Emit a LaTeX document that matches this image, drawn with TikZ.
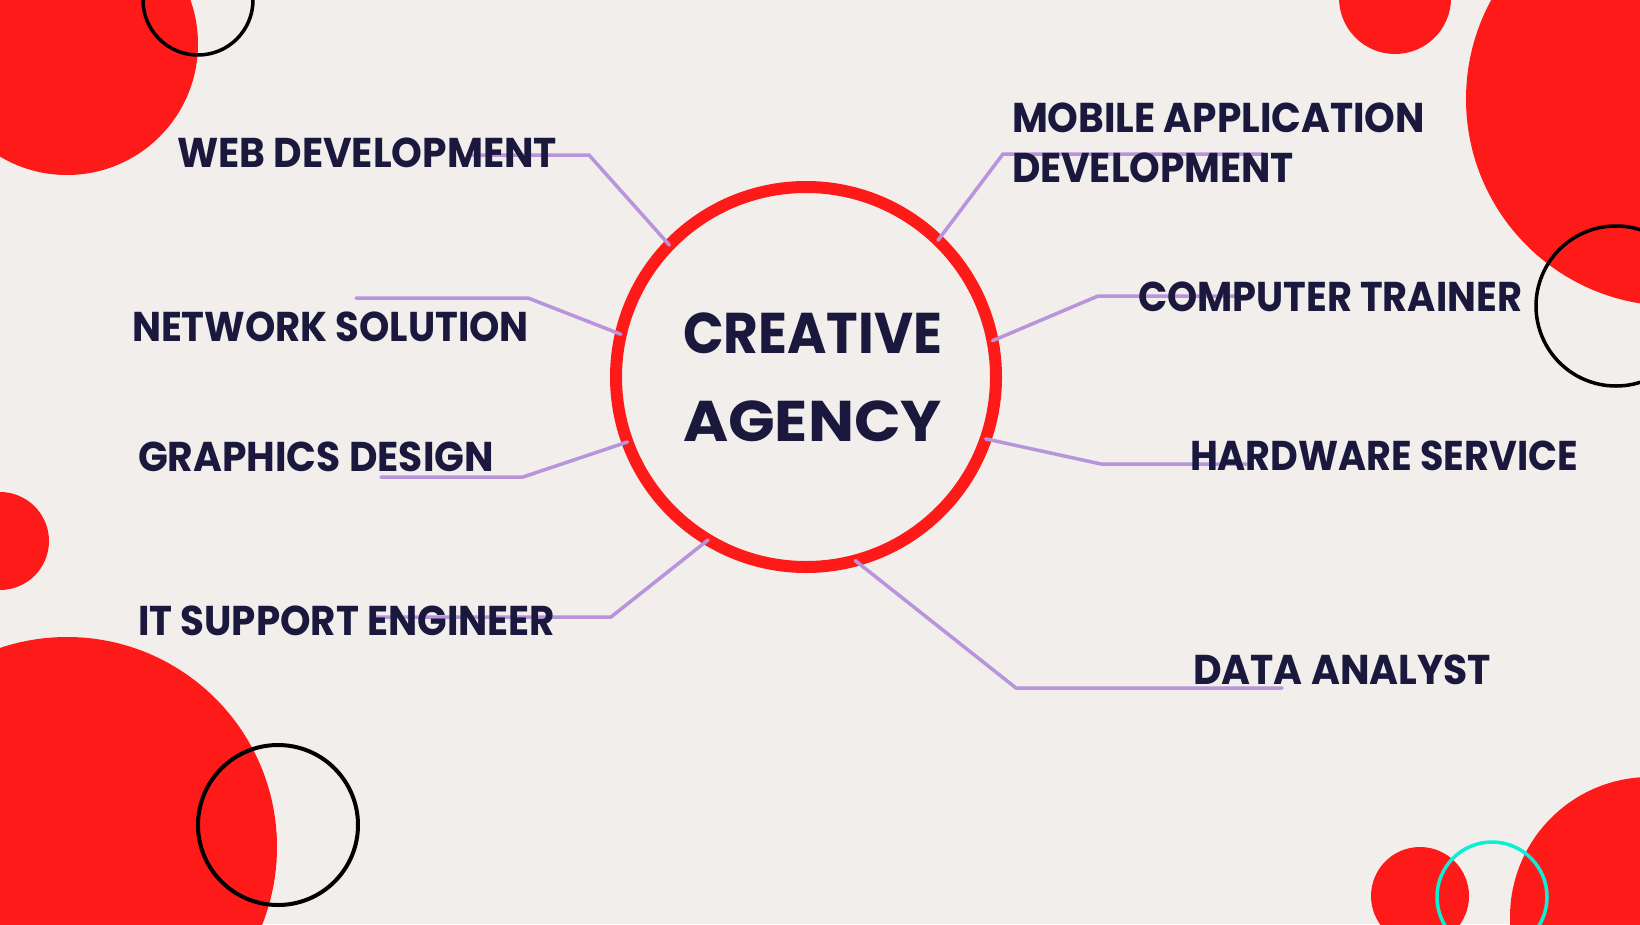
\documentclass[tikz,border=0pt]{standalone}
\usepackage{fontspec}
\usepackage{graphicx}
\setmainfont{Poppins}
\newfontfamily\labfont{Poppins}
\definecolor{bg}{RGB}{241,238,235}
\definecolor{hot}{RGB}{255,26,26}
\definecolor{lilac}{RGB}{184,148,220}
\definecolor{navy}{RGB}{27,24,62}
\definecolor{aqua}{RGB}{10,240,212}
\newsavebox\lbox
\newcommand\fitw[2]{\sbox\lbox{#2}\pgfmathsetmacro\sxf{#1/\wd\lbox}\scalebox{\sxf}[1]{\usebox\lbox}}
\tikzset{
  lab/.style={font=\labfont\bfseries\fontsize{41.6}{44}\selectfont, text=navy, inner sep=0pt, outer sep=0pt, anchor=base west},
  ttl/.style={font=\labfont\bfseries\fontsize{57.4}{60}\selectfont, text=navy, inner sep=0pt, outer sep=0pt, anchor=base west},
  conn/.style={draw=lilac, line width=3.5pt, line cap=round, line join=miter},
  ring/.style={draw=black, line width=3.5pt},
  blob/.style={fill=hot}
}
\begin{document}
\begin{tikzpicture}[x=1pt,y=-1pt]
\useasboundingbox (0,0) rectangle (1640,924);
\clip (0,0) rectangle (1640,924);
\fill[bg] (0,0) rectangle (1640,924);
% decorative circles
\fill[blob] (67,44) circle (131);
\fill[blob] (1395,-2) circle (56);
\fill[blob] (1673,99) circle (207);
\fill[blob] (0,541) circle (49);
\fill[blob] (67,847) circle (210);
\fill[blob] (1420,896) circle (49);
\fill[blob] (1650,917) circle (140);
\draw[ring] (198,0) circle (55);
\draw[ring] (1616,306) circle (80);
\draw[ring, line width=4pt] (278,825) circle (80);
\draw[draw=aqua, line width=3.5pt] (1492,897) circle (55);
% centre
\node[circle, draw=hot, line width=12pt, minimum size=380pt, inner sep=0pt, outer sep=0pt] (c) at (806,377) {};
\node[ttl] (t1) at (683,353) {\fitw{259}{CREATIVE}};
\node[ttl] (t2) at (683,441) {\fitw{259}{AGENCY}};
% connector points
\coordinate (k1) at (589,155);  \coordinate (e1) at (470,155);
\coordinate (k2) at (528,298);  \coordinate (e2) at (356,298);
\coordinate (k3) at (523,477);  \coordinate (e3) at (381,477);
\coordinate (k4) at (611,617);  \coordinate (e4) at (372,617);
\coordinate (k5) at (1003,154); \coordinate (e5) at (1263,154);
\coordinate (k6) at (1098,296); \coordinate (e6) at (1240,296);
\coordinate (k7) at (1101,464); \coordinate (e7) at (1246,464);
\coordinate (k8) at (1016,688); \coordinate (e8) at (1282,688);
\draw[conn] (c.136.9) -- (k1) -- (e1);
\draw[conn] (c.167.4) -- (k2) -- (e2);
\draw[conn] (c.200.2) -- (k3) -- (e3);
\draw[conn] (c.239.4) -- (k4) -- (e4);
\draw[conn] (c.46.9) -- (k5) -- (e5);
\draw[conn] (c.11.1) -- (k6) -- (e6);
\draw[conn] (c.341) -- (k7) -- (e7);
\draw[conn] (c.285.9) -- (k8) -- (e8);
% labels
\node[lab] (web) at (177,167) {\fitw{380}{WEB DEVELOPMENT}};
\node[lab] (net) at (132,341) {\fitw{397}{NETWORK SOLUTION}};
\node[lab] (gfx) at (138,471) {\fitw{356}{GRAPHICS DESIGN}};
\node[lab] (its) at (138,635) {\fitw{417}{IT SUPPORT ENGINEER}};
\node[lab] (mob1) at (1012,132) {\fitw{413}{MOBILE APPLICATION}};
\node[lab] (mob2) at (1012,182) {\fitw{282}{DEVELOPMENT}};
\node[lab] (cmp) at (1138,311) {\fitw{384}{COMPUTER TRAINER}};
\node[lab] (hw) at (1190,470) {\fitw{388}{HARDWARE SERVICE}};
\node[lab] (data) at (1193,684) {\fitw{298}{DATA ANALYST}};
\end{tikzpicture}
\end{document}
